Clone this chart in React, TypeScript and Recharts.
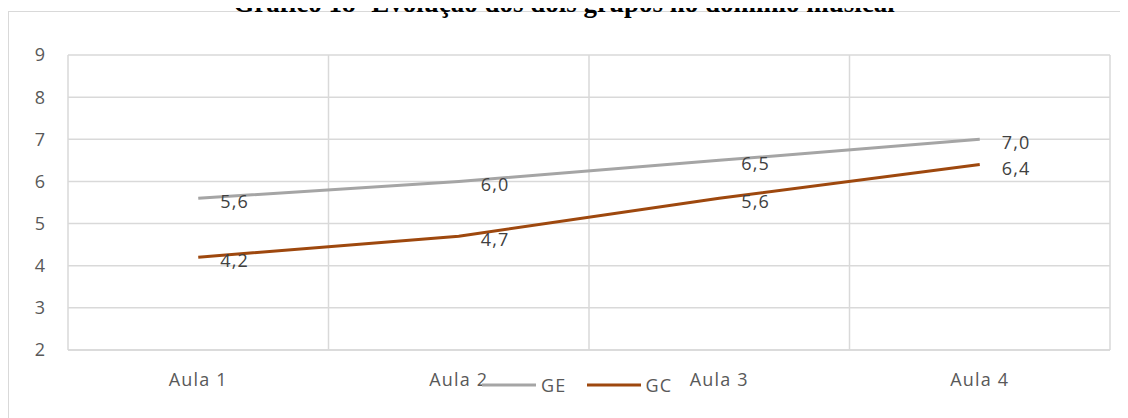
import { LineChart, Line, XAxis, YAxis, CartesianGrid, LabelList } from "recharts";

const aulas = ["Aula 1", "Aula 2", "Aula 3", "Aula 4"];
const geValues = [5.6, 6.0, 6.5, 7.0];
const gcValues = [4.2, 4.7, 5.6, 6.4];
const yTicks = [2, 3, 4, 5, 6, 7, 8, 9];
const gridTicks = [0, 1, 2, 3, 4];

const data = aulas.map((aula, i) => ({ aula, idx: i + 0.5, GE: geValues[i], GC: gcValues[i] }));

const FONT = "'Open Sans', sans-serif";
const GRAY = "#A5A5A5";
const BROWN = "#9E480E";
const SPACING = 1.2;

const fmt = (v: number) => v.toFixed(1).replace(".", ",");

function ValueLabel(props: any) {
  const { x, y, value } = props;
  return (
    <text
      x={x + 22}
      y={y + 3}
      fill="#404040"
      fontSize={18}
      fontFamily={FONT}
      letterSpacing={SPACING}
      dominantBaseline="central"
    >
      {fmt(Number(value))}
    </text>
  );
}

function LegendBox() {
  const items = [
    { name: "GE", color: GRAY },
    { name: "GC", color: BROWN },
  ];
  return (
    <div
      style={{
        position: "absolute",
        left: 474,
        top: 365,
        display: "flex",
        alignItems: "center",
        fontFamily: FONT,
        fontSize: 18,
        letterSpacing: SPACING,
        color: "#595959",
      }}
    >
      {items.map((it) => (
        <div key={it.name} style={{ display: "flex", alignItems: "center", marginRight: 20 }}>
          <svg width={54} height={6}>
            <line x1={0} y1={3} x2={54} y2={3} stroke={it.color} strokeWidth={3} />
          </svg>
          <span style={{ marginLeft: 5 }}>{it.name}</span>
        </div>
      ))}
    </div>
  );
}

export default function App() {
  return (
    <div style={{ position: "relative", width: 1120, height: 410 }}>
      <div
        style={{
          position: "absolute",
          left: 0,
          top: 3,
          width: 1130,
          height: 420,
          border: "1.5px solid #D9D9D9",
          boxSizing: "border-box",
        }}
      />
      <svg width={1112} height={20} style={{ position: "absolute", left: 0, top: -13, overflow: "visible" }}>
        <text
          x={556}
          y={17}
          textAnchor="middle"
          fontFamily="'Liberation Serif', 'Times New Roman', serif"
          fontWeight="bold"
          fontSize={27}
          fill="#000"
        >
          Gráfico 18- Evolução dos dois grupos no domínio musical
        </text>
      </svg>
      <div style={{ position: "absolute", left: 0, top: 0 }}>
        <LineChart width={1120} height={410} data={data} margin={{ top: 47, right: 18, bottom: 38, left: 0 }}>
          <CartesianGrid stroke="#D9D9D9" strokeWidth={1.5} xAxisId="grid" />
          <XAxis
            dataKey="aula"
            scale="band"
            height={30}
            axisLine={{ stroke: "#D9D9D9", strokeWidth: 1.5 }}
            tickLine={false}
            tickSize={0}
            tickMargin={23}
            tick={{ fill: "#595959", fontSize: 18, fontFamily: FONT, letterSpacing: SPACING }}
          />
          <XAxis xAxisId="grid" dataKey="idx" type="number" domain={[0, 4]} ticks={gridTicks} height={0} hide />
          <YAxis
            width={60}
            domain={[2, 9]}
            ticks={yTicks}
            axisLine={false}
            tickLine={false}
            tickSize={0}
            tickMargin={23}
            tick={{ fill: "#595959", fontSize: 18, fontFamily: FONT }}
          />
          <Line type="linear" dataKey="GE" stroke={GRAY} strokeWidth={3} dot={false} isAnimationActive={false}>
            <LabelList dataKey="GE" content={<ValueLabel />} />
          </Line>
          <Line type="linear" dataKey="GC" stroke={BROWN} strokeWidth={3} dot={false} isAnimationActive={false}>
            <LabelList dataKey="GC" content={<ValueLabel />} />
          </Line>
        </LineChart>
      </div>
      <LegendBox />
    </div>
  );
}
